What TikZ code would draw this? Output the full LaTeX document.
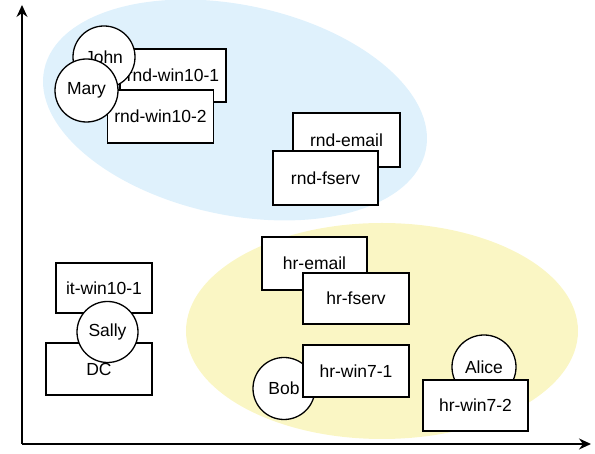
\documentclass[tikz,border=0pt]{standalone}
\usepackage{fontspec}
\setmainfont{Liberation Sans}
\usetikzlibrary{arrows.meta}
\definecolor{zoneblue}{RGB}{223,241,252}
\definecolor{zoneyellow}{RGB}{250,246,196}
\tikzset{
  hostbox/.style={draw, fill=white, line width=1.4pt, inner sep=0pt,
    minimum width=#1, minimum height=53pt, font=\fontsize{17.5}{20}\selectfont},
  hostbox/.default=106pt,
  userc/.style={draw, fill=white, circle, line width=1.3pt, inner sep=0pt,
    minimum size=#1, font=\fontsize{17.5}{20}\selectfont},
  userc/.default=62pt,
  axisline/.style={line width=1.4pt, -{Stealth[length=12pt,width=11pt]}}
}
\begin{document}
\begin{tikzpicture}[x=1pt,y=1pt]
\useasboundingbox (0,0) rectangle (595,454);
% zones
\fill[zoneblue, rotate around={-12:(235,344)}] (235,344) ellipse [x radius=195, y radius=105];
\fill[zoneyellow] (382,123) ellipse [x radius=196, y radius=108];
% axes
\coordinate (O) at (22,10);
\coordinate (ytop) at (22,449);
\coordinate (xend) at (591,10);
\draw[axisline] (O) -- (ytop);
\draw[axisline] (O) -- (xend);
% R&D
\node[hostbox] (rndw1) at (173,378.5) {rnd-win10-1};
\node[userc] (john) at (104,397) {John};
\node[hostbox] (rndw2) at (160.5,337.5) {rnd-win10-2};
\node[userc=63pt] (mary) at (86.5,363.5) {Mary};
\node[hostbox=107pt, minimum height=54pt] (rndemail) at (346.5,314) {rnd-email};
\node[hostbox=105pt, minimum height=54pt] (rndfserv) at (325.5,276) {rnd-fserv};
% IT
\node[hostbox=96pt, minimum height=50pt] (itw) at (104,166) {it-win10-1};
\node[hostbox, minimum height=52pt] (dc) at (99,85) {DC};
\node[userc=61pt] (sally) at (107.5,122) {Sally};
% HR
\node[hostbox=105pt] (hremail) at (314.5,190.5) {hr-email};
\node[hostbox, minimum height=51pt] (hrfserv) at (356,155.5) {hr-fserv};
\node[userc] (bob) at (284,65.5) {Bob};
\node[hostbox, minimum height=52pt] (hrw1) at (356,83) {hr-win7-1};
\node[userc=64pt] (alice) at (484,87) {Alice};
\node[hostbox=105pt, minimum height=51pt] (hrw2) at (475.5,48.5) {hr-win7-2};
\end{tikzpicture}
\end{document}
